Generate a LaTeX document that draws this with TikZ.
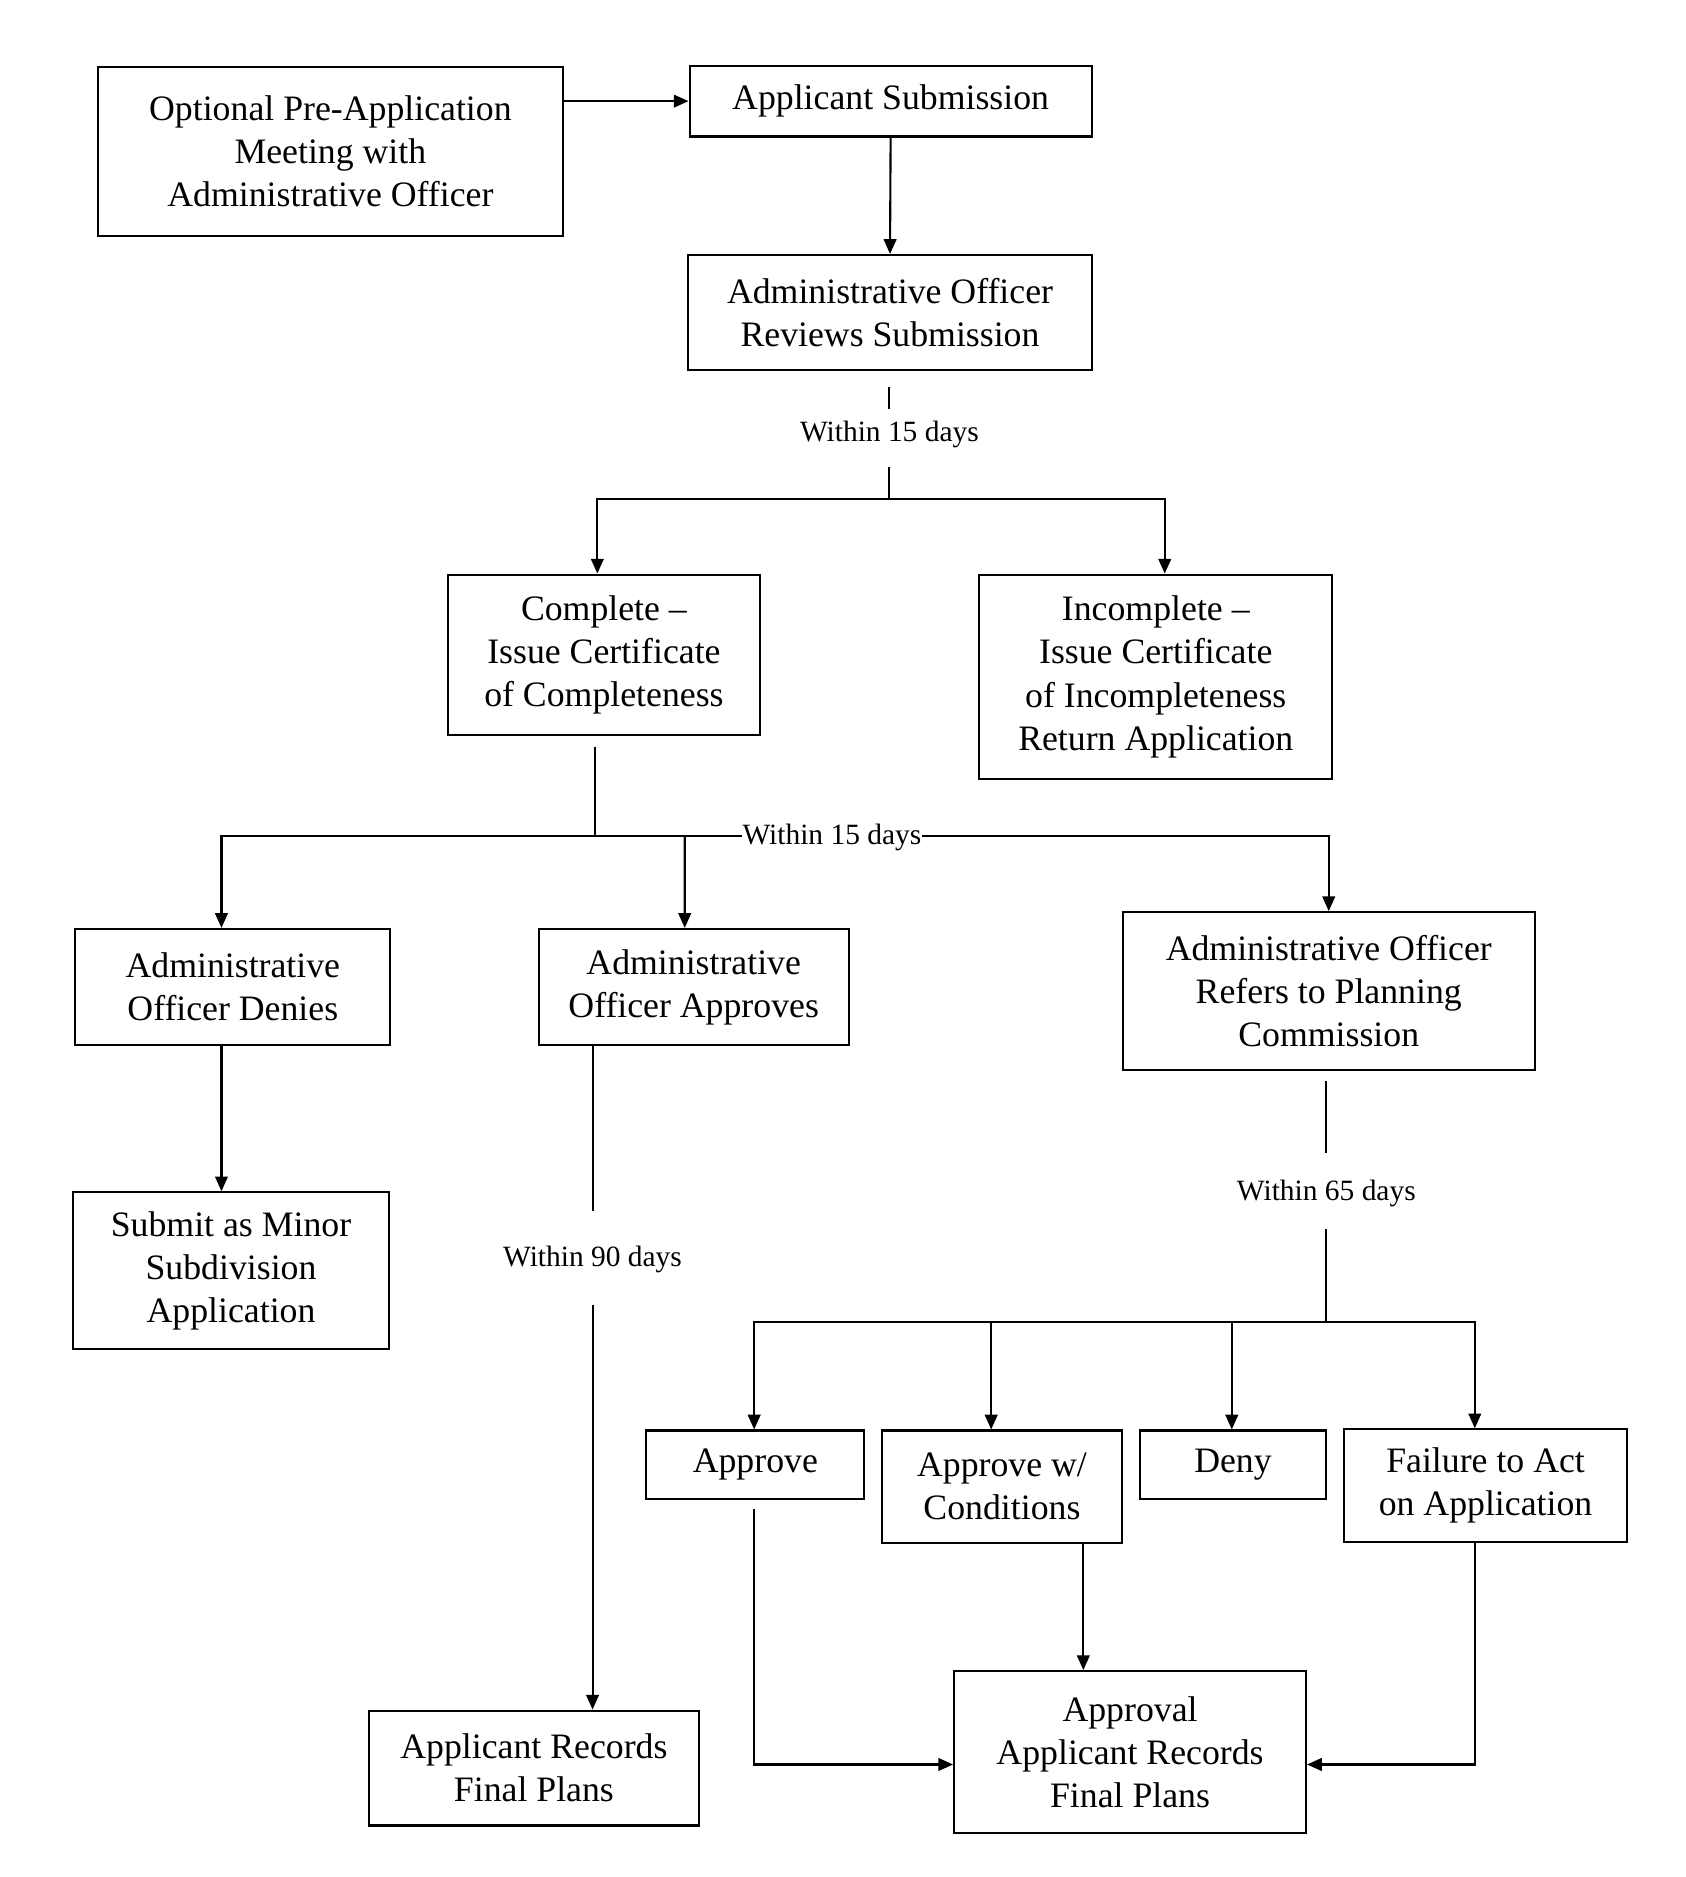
\documentclass[tikz,border=0pt]{standalone}
\usepackage{fontspec}
\setmainfont{Liberation Serif}
\usetikzlibrary{arrows.meta,calc}
\begin{document}
\begin{tikzpicture}[x=0.02cm,y=-0.02cm,
  box/.style={draw, line width=1pt, align=center, font=\fontsize{17}{20.5}\selectfont, inner sep=0pt},
  lbl/.style={font=\fontsize{14}{16}\selectfont, inner sep=1pt},
  conn/.style={line width=1pt},
  arr/.style={conn, -{Triangle[length=7pt,width=6pt]}}]
\useasboundingbox (0,0) rectangle (1408,1568);

% boxes
\node[box, minimum width=7.76cm, minimum height=2.82cm] (pre) at (276,126.5) {Optional Pre-Application\\Meeting with\\Administrative Officer};
\node[box, minimum width=6.72cm, minimum height=1.18cm] (sub) at (744,84.5) {Applicant Submission};
\node[box, minimum width=6.74cm, minimum height=1.92cm] (rev) at (743.5,261) {Administrative Officer\\Reviews Submission};
\node[box, minimum width=5.22cm, minimum height=2.68cm] (comp) at (504.5,547) {Complete --\\Issue Certificate\\of Completeness};
\node[box, minimum width=5.9cm, minimum height=3.42cm] (incomp) at (965.5,565.5) {Incomplete --\\Issue Certificate\\of Incompleteness\\Return Application};
\node[box, minimum width=5.26cm, minimum height=1.94cm] (deny1) at (194.5,824.5) {Administrative\\Officer Denies};
\node[box, minimum width=5.18cm, minimum height=1.94cm] (appr1) at (579.5,824.5) {Administrative\\Officer Approves};
\node[box, minimum width=6.88cm, minimum height=2.64cm] (refer) at (1110,828) {Administrative Officer\\Refers to Planning\\Commission};
\node[box, minimum width=5.28cm, minimum height=2.62cm] (minor) at (193,1061.5) {Submit as Minor\\Subdivision\\Application};
\node[box, minimum width=5.52cm, minimum height=1.92cm] (rec1) at (446,1477) {Applicant Records\\Final Plans};
\node[box, minimum width=3.64cm, minimum height=1.14cm] (approve) at (631,1223.5) {Approve};
\node[box, minimum width=4.0cm, minimum height=1.88cm] (apprc) at (837,1242) {Approve w/\\Conditions};
\node[box, minimum width=3.12cm, minimum height=1.14cm] (deny2) at (1030,1223.5) {Deny};
\node[box, minimum width=4.72cm, minimum height=1.88cm] (fail) at (1241,1241) {Failure to Act\\on Application};
\node[box, minimum width=5.88cm, minimum height=2.7cm] (final) at (944,1463.5) {Approval\\Applicant Records\\Final Plans};

% labels
\node[lbl] (w15a) at (743,363) {Within 15 days};
\node[lbl] (w90) at (495,1052) {Within 90 days};
\node[lbl] (w65) at (1108,997) {Within 65 days};

% coordinates for junctions
\coordinate (c1) at (743,417);
\coordinate (c2) at (497,698);
\coordinate (c3) at (1108,1104);

% top
\draw[arr] (sub.west -| pre.east) -- (sub.west);
\draw[arr] (sub.south) -- (rev.north);

% review -> complete / incomplete
\draw[conn] ($(w15a)+(0,-40)$) -- ($(w15a)+(0,-21)$);
\draw[conn] ($(w15a)+(0,27)$) -- (c1);
\draw[arr] (c1) -| ([xshift=-0.11cm]comp.north);
\draw[arr] (c1) -| ([xshift=0.15cm]incomp.north);

% complete -> three outcomes
\draw[conn] (c2 |- 0,624) -- (c2);
\draw[arr] (c2) -| ([xshift=-0.19cm]deny1.north);
\draw[arr] (c2) -| (refer.north);
\draw[arr] (c2 -| 572,0) -- ([xshift=-0.15cm]appr1.north);
\node[lbl, fill=white, inner xsep=0.5pt] (w15b) at (695,700) {Within 15 days};

% denies -> minor
\draw[arr] ([xshift=-0.19cm]deny1.south) -- ([xshift=-0.19cm]deny1.south |- minor.north);

% approves -> records
\draw[conn] (w90 |- appr1.south) -- ($(w90)+(0,-40)$);
\draw[arr] ($(w90)+(0,38)$) -- (w90 |- rec1.north);

% refers -> outcomes
\draw[conn] ($(w65)+(0,-94)$) -- ($(w65)+(0,-34)$);
\draw[conn] ($(w65)+(0,30)$) -- (c3);
\draw[arr] (c3) -| (approve.north -| 630,0);
\draw[arr] (c3) -| ([xshift=-0.18cm]apprc.north);
\draw[arr] (c3) -| (deny2.north -| 1029,0);
\draw[arr] (c3) -| ([xshift=-0.18cm]fail.north);

% outcomes -> final approval
\draw[arr] ($(approve.south)+(-1,8)$) |- ([yshift=-0.21cm]final.west);
\draw[arr] ([xshift=1.36cm]apprc.south) -- ([xshift=1.36cm]apprc.south |- final.north);
\draw[arr] ([xshift=-0.18cm]fail.south) |- ([yshift=-0.21cm]final.east);
\end{tikzpicture}
\end{document}
